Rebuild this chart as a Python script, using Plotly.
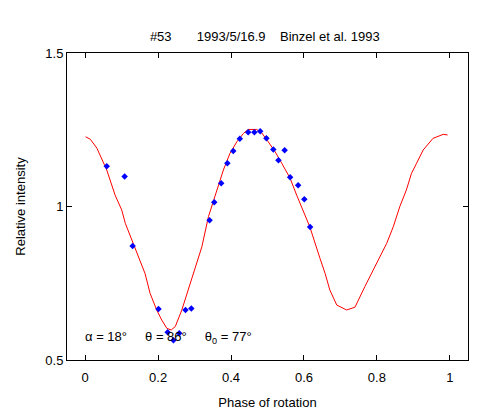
import plotly.graph_objects as go

# observed lightcurve points
obs_phase = [0.059, 0.108, 0.130, 0.201, 0.226, 0.242, 0.258, 0.275, 0.291,
             0.341, 0.354, 0.373, 0.390, 0.406, 0.424, 0.447, 0.464, 0.480,
             0.497, 0.516, 0.530, 0.547, 0.562, 0.584, 0.601, 0.617]
obs_int = [1.131, 1.098, 0.871, 0.666, 0.590, 0.564, 0.587, 0.663, 0.668,
           0.955, 1.014, 1.076, 1.141, 1.181, 1.221, 1.242, 1.242, 1.245,
           1.222, 1.186, 1.151, 1.183, 1.095, 1.069, 1.024, 0.933]

# model curve
mod_phase = [0.001, 0.014, 0.032, 0.046, 0.059, 0.082, 0.100, 0.110, 0.128,
             0.151, 0.164, 0.178, 0.196, 0.210, 0.224, 0.236, 0.247, 0.265,
             0.283, 0.301, 0.320, 0.338, 0.356, 0.379, 0.397, 0.416, 0.434,
             0.447, 0.470, 0.484, 0.502, 0.521, 0.539, 0.562, 0.580, 0.598,
             0.616, 0.644, 0.658, 0.671, 0.690, 0.717, 0.740, 0.767, 0.799,
             0.827, 0.845, 0.863, 0.881, 0.895, 0.909, 0.927, 0.954, 0.982,
             0.994]
mod_int = [1.227, 1.219, 1.190, 1.151, 1.119, 1.037, 0.989, 0.945, 0.891,
           0.826, 0.782, 0.717, 0.663, 0.630, 0.603, 0.598, 0.609, 0.663,
           0.728, 0.793, 0.869, 0.967, 1.037, 1.119, 1.173, 1.211, 1.238,
           1.251, 1.251, 1.240, 1.211, 1.178, 1.141, 1.092, 1.037, 0.983,
           0.934, 0.831, 0.782, 0.728, 0.679, 0.663, 0.672, 0.739, 0.815,
           0.880, 0.934, 1.000, 1.054, 1.108, 1.141, 1.184, 1.222, 1.235,
           1.233]

x_ticks = [0, 0.2, 0.4, 0.6, 0.8, 1]
y_ticks = [0.5, 1, 1.5]

font = dict(family="Liberation Sans, Arial, sans-serif", size=13, color="black")
sp = "&nbsp;"

fig = go.Figure()
fig.add_trace(go.Scatter(x=mod_phase, y=mod_int, mode="lines",
                         line=dict(color="red", width=1), showlegend=False))
fig.add_trace(go.Scatter(x=obs_phase, y=obs_int, mode="markers",
                         marker=dict(symbol="diamond", size=5, color="blue"),
                         showlegend=False))

fig.add_annotation(x=-0.006, y=0.572, xref="x", yref="y",
                   text="α = 18°" + sp * 5 + "θ = 86°" + sp * 5 + "θ<sub>0</sub> = 77°",
                   showarrow=False, xanchor="left", yanchor="middle", font=font)

axis_common = dict(showline=True, linecolor="black", linewidth=1, mirror="ticks",
                   ticks="inside", ticklen=5, tickcolor="black", showgrid=False,
                   zeroline=False, tickfont=font, automargin=False)

# page body adds an 8px offset, so the figure is a bit smaller than the window
fig.update_layout(
    width=492, height=412,
    margin=dict(l=59, r=32, t=45, b=60),
    paper_bgcolor="white", plot_bgcolor="white",
    font=font,
    title=dict(text="#53" + sp * 7 + "1993/5/16.9" + sp * 4 + "Binzel et al. 1993",
               x=0.522, xanchor="center", y=0.932, yanchor="middle", font=font),
    xaxis=dict(range=[-0.05, 1.05], tickvals=x_ticks, ticklabelstandoff=5,
               title=dict(text="Phase of rotation", font=font, standoff=14), **axis_common),
    yaxis=dict(range=[0.5, 1.5], tickvals=y_ticks,
               title=dict(text="Relative intensity", font=font, standoff=16), **axis_common),
)

fig.write_html("out.html")
